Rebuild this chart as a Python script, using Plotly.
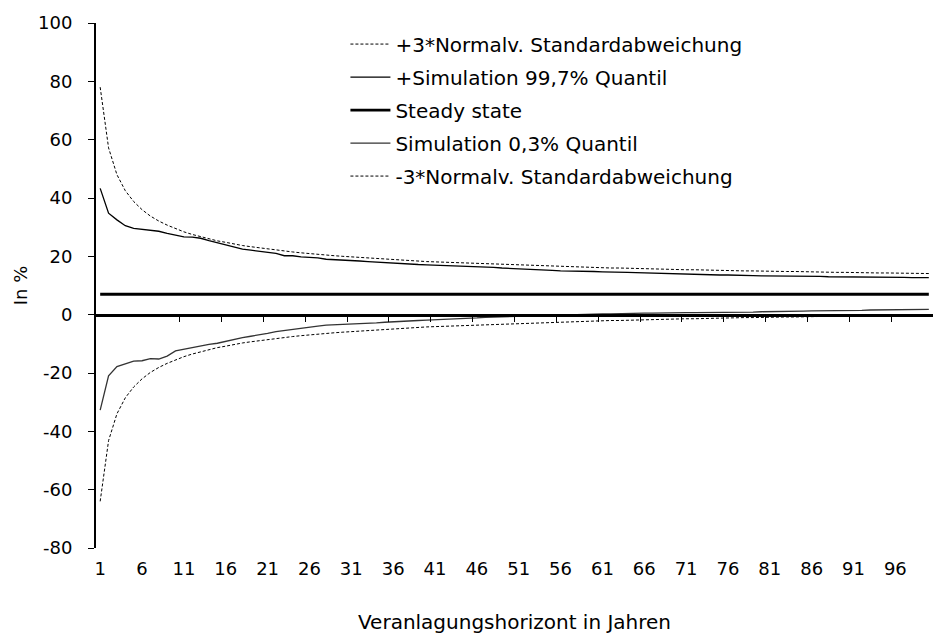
import plotly.graph_objects as go

# ---- data ----
years = list(range(1, 101))
tick_labels = [str(y) for y in years[::5]]

upper_normal = [78.0, 57.2, 48.0, 42.5, 38.8, 36.0, 33.8, 32.1, 30.7, 29.5,
                28.4, 27.5, 26.7, 26.0, 25.3, 24.8, 24.2, 23.7, 23.3, 22.9,
                22.5, 22.1, 21.8, 21.5, 21.2, 20.9, 20.7, 20.4, 20.2, 20.0,
                19.8, 19.6, 19.4, 19.2, 19.0, 18.8, 18.7, 18.5, 18.4, 18.2,
                18.1, 18.0, 17.8, 17.7, 17.6, 17.5, 17.4, 17.3, 17.1, 17.0,
                16.9, 16.9, 16.8, 16.7, 16.6, 16.5, 16.4, 16.3, 16.2, 16.2,
                16.1, 16.0, 16.0, 15.9, 15.8, 15.7, 15.7, 15.6, 15.6, 15.5,
                15.4, 15.4, 15.3, 15.3, 15.2, 15.1, 15.1, 15.0, 15.0, 14.9,
                14.9, 14.8, 14.8, 14.8, 14.7, 14.7, 14.6, 14.6, 14.5, 14.5,
                14.4, 14.4, 14.4, 14.3, 14.3, 14.3, 14.2, 14.2, 14.1, 14.1]

upper_sim = [43.3, 34.8, 32.5, 30.5, 29.6, 29.3, 29.0, 28.6, 27.9, 27.2,
             26.7, 26.6, 26.2, 25.4, 24.7, 23.8, 23.1, 22.5, 22.1, 21.7,
             21.5, 21.0, 20.2, 20.2, 19.8, 19.7, 19.5, 19.0, 18.9, 18.8,
             18.5, 18.4, 18.2, 18.0, 17.8, 17.6, 17.4, 17.3, 17.2, 17.1,
             17.0, 16.9, 16.8, 16.8, 16.7, 16.5, 16.3, 16.2, 16.0, 15.9,
             15.8, 15.6, 15.5, 15.3, 15.2, 15.0, 15.0, 14.9, 14.9, 14.8,
             14.7, 14.7, 14.6, 14.5, 14.4, 14.3, 14.3, 14.2, 14.0, 13.9,
             13.8, 13.7, 13.7, 13.6, 13.6, 13.6, 13.6, 13.5, 13.4, 13.3,
             13.3, 13.2, 13.2, 13.2, 13.1, 13.1, 13.1, 13.0, 13.0, 13.0,
             12.9, 12.9, 12.9, 12.8, 12.8, 12.8, 12.8, 12.7, 12.7, 12.7]

steady_state_value = 7.0

lower_sim = [-32.7, -21.0, -17.8, -16.9, -15.9, -15.8, -15.1, -15.2, -14.2, -12.4,
             -11.8, -11.3, -10.7, -10.2, -9.8, -9.1, -8.6, -7.9, -7.4, -7.0,
             -6.4, -5.8, -5.4, -4.9, -4.6, -4.2, -3.9, -3.6, -3.5, -3.2,
             -3.2, -3.1, -3.0, -2.8, -2.6, -2.4, -2.3, -2.1, -2.0, -1.9,
             -1.8, -1.6, -1.5, -1.4, -1.3, -1.1, -0.9, -0.8, -0.7, -0.6,
             -0.5, -0.4, -0.3, -0.3, -0.2, -0.1, 0.0, 0.1, 0.2, 0.2,
             0.3, 0.3, 0.4, 0.4, 0.5, 0.5, 0.5, 0.6, 0.6, 0.6,
             0.7, 0.7, 0.7, 0.8, 0.8, 0.8, 0.8, 0.9, 0.9, 1.0,
             1.0, 1.1, 1.1, 1.2, 1.2, 1.3, 1.3, 1.4, 1.4, 1.4,
             1.5, 1.5, 1.6, 1.6, 1.6, 1.7, 1.7, 1.7, 1.8, 1.8]

lower_normal = [-64.0, -43.2, -34.0, -28.5, -24.8, -22.0, -19.8, -18.1, -16.7, -15.5,
                -14.4, -13.5, -12.7, -12.0, -11.3, -10.8, -10.2, -9.7, -9.3, -8.9,
                -8.5, -8.1, -7.8, -7.5, -7.2, -6.9, -6.7, -6.4, -6.2, -6.0,
                -5.8, -5.6, -5.4, -5.2, -5.0, -4.8, -4.7, -4.5, -4.4, -4.2,
                -4.1, -4.0, -3.8, -3.7, -3.6, -3.5, -3.4, -3.3, -3.1, -3.0,
                -2.9, -2.9, -2.8, -2.7, -2.6, -2.5, -2.4, -2.3, -2.2, -2.2,
                -2.1, -2.0, -2.0, -1.9, -1.8, -1.7, -1.7, -1.6, -1.6, -1.5,
                -1.4, -1.4, -1.3, -1.3, -1.2, -1.1, -1.1, -1.0, -1.0, -0.9,
                -0.9, -0.8, -0.8, -0.8, -0.7, -0.7, -0.6, -0.6, -0.5, -0.5,
                -0.4, -0.4, -0.4, -0.3, -0.3, -0.3, -0.2, -0.2, -0.1, -0.1]

y_tick_vals = [-80, -60, -40, -20, 0, 20, 40, 60, 80, 100]
y_tick_text = ["-80", "-60", "-40", "-20", "0", "20", "40", "60", "80", "100"]

# ---- figure ----
FONT = "DejaVu Sans"
FS_TICK = 18
FS_TEXT = 20
fig = go.Figure()

series = [
    ("+3*Normalv. Standardabweichung", upper_normal, dict(color="black", width=1, dash="3px,2px")),
    ("+Simulation 99,7% Quantil", upper_sim, dict(color="black", width=1.3)),
    ("Steady state", [steady_state_value] * len(years), dict(color="black", width=2.8)),
    ("Simulation 0,3% Quantil", lower_sim, dict(color="#333333", width=1.3)),
    ("-3*Normalv. Standardabweichung", lower_normal, dict(color="black", width=1, dash="3px,2px")),
]
for i, (name, vals, line) in enumerate(series):
    fig.add_trace(go.Scatter(x=years, y=vals, mode="lines", name=name, line=line,
                             legendgroup=f"g{i}", hoverinfo="skip"))

# boundary ticks on the zero axis (Excel style: between categories)
boundary_ticks = [y + 4.5 for y in years[::5]][1:]
fig.add_trace(go.Scatter(x=[years[0], years[-1]], y=[0, 0], xaxis="x2", mode="lines",
                         line=dict(width=0), showlegend=False, hoverinfo="skip"))

fig.update_layout(
    width=933, height=640,
    margin=dict(l=96, r=0, t=23, b=92),
    paper_bgcolor="white", plot_bgcolor="white",
    font=dict(family=FONT, size=FS_TICK, color="black"),
    showlegend=True,
    legend=dict(x=0.298, y=0.997, xanchor="left", yanchor="top",
                bgcolor="rgba(0,0,0,0)", tracegroupgap=4,
                font=dict(family=FONT, size=FS_TEXT), itemwidth=40),
    xaxis=dict(range=[0.5, 100.5], tickvals=years[::5], ticktext=tick_labels,
               showline=False, ticks="", showgrid=False, zeroline=False,
               ticklabelstandoff=8, automargin=False,
               tickfont=dict(family=FONT, size=FS_TICK),
               title=dict(text="Veranlagungshorizont in Jahren", standoff=36,
                          font=dict(family=FONT, size=FS_TEXT))),
    xaxis2=dict(range=[0.5, 100.5], overlaying="x", anchor="free", position=80 / 180,
                side="bottom", tickvals=boundary_ticks, showticklabels=False,
                ticks="outside", ticklen=6, tickwidth=1.3, tickcolor="black",
                showline=True, linewidth=2.5, linecolor="black",
                showgrid=False, zeroline=False, automargin=False),
    yaxis=dict(range=[-80, 100], tickvals=y_tick_vals, ticktext=y_tick_text,
               showgrid=False, zeroline=False, automargin=False,
               showline=True, linewidth=2, linecolor="black",
               ticks="outside", ticklen=6, tickwidth=1.3, tickcolor="black",
               ticklabelstandoff=12, tickfont=dict(family=FONT, size=FS_TICK),
               title=dict(text="In %", standoff=6, font=dict(family=FONT, size=FS_TICK))),
)

fig.write_html("out.html", config={"displayModeBar": False},
               post_script="document.body.style.margin='0px';")
